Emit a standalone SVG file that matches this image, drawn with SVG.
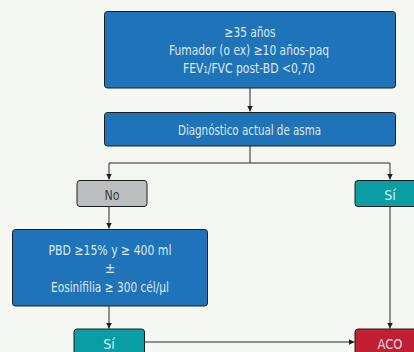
<svg xmlns="http://www.w3.org/2000/svg" width="414" height="352" viewBox="0 0 414 352">
<style>
.bg{fill:#f5f7f2}
.box{stroke:#1e1e1e;stroke-width:1}
.blue{fill:#1f73b9}
.teal{fill:#0a9ea4}
.gray{fill:#bdbec0}
.red{fill:#c11f33}
text{font-family:"Liberation Sans Narrow","DejaVu Sans Condensed","Liberation Sans",sans-serif;font-size:14px;text-anchor:middle}
.tb{fill:#dde9f7}
.tt{fill:#d8f1f1}
.tr{fill:#f7d6da}
.tg{fill:#3a3a3a}
.ln{stroke:#2a2a2a;stroke-width:1;fill:none}
</style>
<defs>
<marker id="ah" viewBox="0 0 6 6" refX="6" refY="3" markerWidth="6" markerHeight="6" markerUnits="userSpaceOnUse" orient="auto">
<path d="M0,0 L6,3 L0,6 Z" fill="#1e1e1e"/>
</marker>
</defs>
<rect class="bg" x="0" y="0" width="414" height="352"/>
<g id="connectors">
<path class="ln" d="M250,88 V111.5" marker-end="url(#ah)"/>
<path class="ln" d="M250,146 V163 M109,163 H390"/>
<path class="ln" d="M109,163 V179.5" marker-end="url(#ah)"/>
<path class="ln" d="M390,163 V179.5" marker-end="url(#ah)"/>
<path class="ln" d="M109,207 V228.5" marker-end="url(#ah)"/>
<path class="ln" d="M390,207 V328.5" marker-end="url(#ah)"/>
<path class="ln" d="M109,306 V328.5" marker-end="url(#ah)"/>
<path class="ln" d="M144,342 H354.5" marker-end="url(#ah)"/>
</g>
<g id="criterios">
<rect class="box blue" x="104.5" y="11.5" width="291" height="76.5" rx="3"/>
<text class="tb" x="250" y="37" textLength="51" lengthAdjust="spacingAndGlyphs">≥35 años</text>
<text class="tb" x="249" y="55" textLength="160" lengthAdjust="spacingAndGlyphs">Fumador (o ex) ≥10 años-paq</text>
<text class="tb" x="249" y="73" textLength="132" lengthAdjust="spacingAndGlyphs">FEV₁/FVC post-BD &lt;0,70</text>
</g>
<g id="diagnostico">
<rect class="box blue" x="104.5" y="112.5" width="291" height="33.5" rx="3"/>
<text class="tb" x="249.5" y="135" textLength="143" lengthAdjust="spacingAndGlyphs">Diagnóstico actual de asma</text>
</g>
<g id="no">
<rect class="box gray" x="77" y="180.5" width="70" height="26" rx="3"/>
<text class="tg" x="112" y="200" textLength="15" lengthAdjust="spacingAndGlyphs">No</text>
</g>
<g id="si-derecha">
<rect class="box teal" x="355" y="180.5" width="70" height="26" rx="3"/>
<text class="tt" x="390" y="200">Sí</text>
</g>
<g id="pbd">
<rect class="box blue" x="12.5" y="229.5" width="195" height="76.5" rx="3"/>
<text class="tb" x="110" y="254.5" textLength="123" lengthAdjust="spacingAndGlyphs">PBD ≥15% y ≥ 400 ml</text>
<text class="tb" x="110" y="273">±</text>
<text class="tb" x="110" y="291.5" textLength="118" lengthAdjust="spacingAndGlyphs">Eosinifilia ≥ 300 cél/µl</text>
</g>
<g id="si-izquierda">
<rect class="box teal" x="74" y="329" width="70.5" height="26" rx="3"/>
<text class="tt" x="109" y="348.5">Sí</text>
</g>
<g id="aco">
<rect class="box red" x="355" y="329" width="70" height="26" rx="3"/>
<text class="tr" x="390" y="349" textLength="25" lengthAdjust="spacingAndGlyphs">ACO</text>
</g>
</svg>
